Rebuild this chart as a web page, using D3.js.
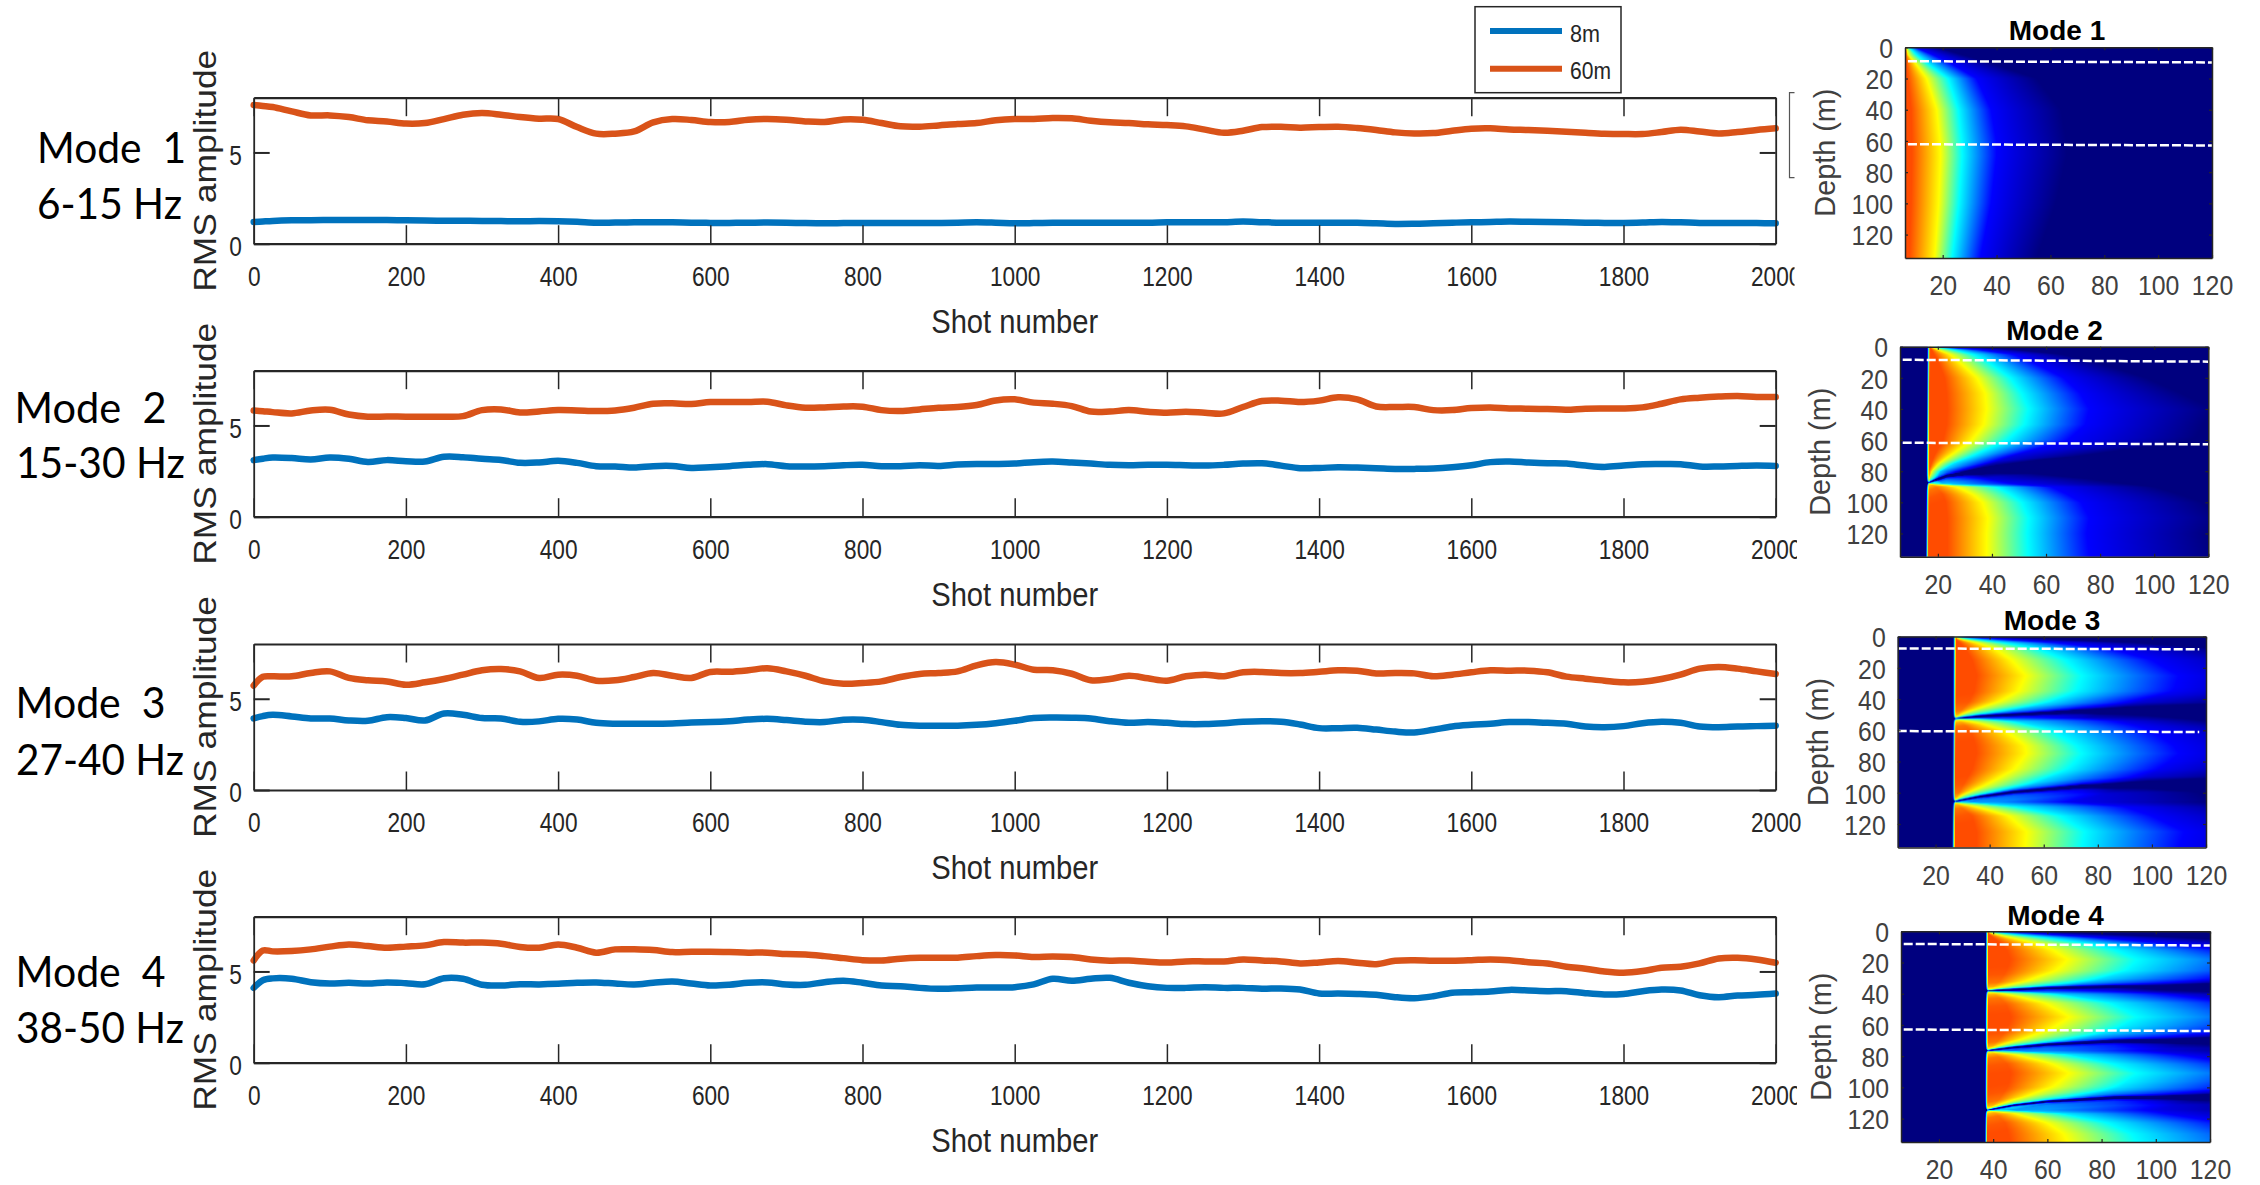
<!DOCTYPE html>
<html>
<head>
<meta charset="utf-8">
<title>Mode amplitude</title>
<script src="https://cdn.jsdelivr.net/npm/d3@7"></script>
<style>
  html, body { margin: 0; background: #fff; }
  svg { display: block; font-family: "Liberation Sans", Arial, sans-serif; }
</style>
</head>
<body>
<svg id="chart" width="2260" height="1185"></svg>
<script>
// shot numbers shared by all the curves
const shots = [0, 12,
  25, 50, 75, 100, 125, 150, 175, 200, 225, 250,
  275, 300, 325, 350, 375, 400, 425, 450, 475, 500,
  525, 550, 575, 600, 625, 650, 675, 700, 725, 750,
  775, 800, 825, 850, 875, 900, 925, 950, 975, 1000,
  1025, 1050, 1075, 1100, 1125, 1150, 1175, 1200, 1225, 1250,
  1275, 1300, 1325, 1350, 1375, 1400, 1425, 1450, 1475, 1500,
  1525, 1550, 1575, 1600, 1625, 1650, 1675, 1700, 1725, 1750,
  1775, 1800, 1825, 1850, 1875, 1900, 1925, 1950, 1975, 2000]

const mode1Shallow = [1.19, 1.22,
  1.25, 1.28, 1.29, 1.30, 1.30, 1.30, 1.30, 1.28, 1.27, 1.26,
  1.26, 1.25, 1.24, 1.23, 1.24, 1.23, 1.20, 1.15, 1.16, 1.17,
  1.17, 1.17, 1.15, 1.14, 1.14, 1.15, 1.16, 1.15, 1.13, 1.12,
  1.13, 1.14, 1.14, 1.14, 1.14, 1.14, 1.15, 1.17, 1.15, 1.12,
  1.13, 1.15, 1.15, 1.15, 1.15, 1.15, 1.15, 1.17, 1.18, 1.17,
  1.18, 1.21, 1.18, 1.15, 1.15, 1.15, 1.15, 1.15, 1.12, 1.08,
  1.09, 1.12, 1.15, 1.17, 1.19, 1.21, 1.20, 1.19, 1.17, 1.15,
  1.14, 1.14, 1.16, 1.19, 1.17, 1.14, 1.13, 1.14, 1.13, 1.12]
const mode1Deep = [7.6, 7.55,
  7.49, 7.25, 7.03, 7.03, 6.94, 6.76, 6.70, 6.58, 6.61, 6.83,
  7.07, 7.16, 7.07, 6.94, 6.85, 6.83, 6.39, 6.03, 6.03, 6.15,
  6.65, 6.83, 6.78, 6.67, 6.67, 6.79, 6.83, 6.79, 6.70, 6.67,
  6.81, 6.79, 6.61, 6.43, 6.41, 6.48, 6.56, 6.61, 6.76, 6.83,
  6.83, 6.89, 6.87, 6.74, 6.65, 6.61, 6.54, 6.50, 6.43, 6.25,
  6.08, 6.19, 6.39, 6.41, 6.36, 6.39, 6.41, 6.34, 6.23, 6.10,
  6.04, 6.06, 6.19, 6.30, 6.32, 6.26, 6.23, 6.19, 6.14, 6.08,
  6.03, 6.01, 6.01, 6.12, 6.25, 6.15, 6.04, 6.12, 6.23, 6.32]

const mode2Shallow = [3.10, 3.18,
  3.24, 3.21, 3.13, 3.24, 3.17, 3.00, 3.10, 3.04, 3.02, 3.28,
  3.26, 3.17, 3.11, 2.95, 2.97, 3.06, 2.95, 2.77, 2.75, 2.69,
  2.77, 2.78, 2.67, 2.71, 2.77, 2.84, 2.88, 2.77, 2.75, 2.77,
  2.82, 2.84, 2.77, 2.77, 2.82, 2.78, 2.86, 2.89, 2.89, 2.91,
  2.99, 3.02, 2.97, 2.91, 2.84, 2.82, 2.84, 2.84, 2.82, 2.80,
  2.84, 2.91, 2.93, 2.80, 2.66, 2.67, 2.71, 2.69, 2.66, 2.62,
  2.62, 2.64, 2.71, 2.82, 2.99, 3.02, 2.97, 2.93, 2.91, 2.80,
  2.73, 2.80, 2.88, 2.89, 2.88, 2.75, 2.75, 2.78, 2.80, 2.78]
const mode2Deep = [5.82, 5.78,
  5.73, 5.66, 5.82, 5.86, 5.60, 5.48, 5.49, 5.48, 5.48, 5.48,
  5.51, 5.84, 5.88, 5.71, 5.77, 5.84, 5.82, 5.79, 5.82, 5.97,
  6.19, 6.21, 6.17, 6.28, 6.28, 6.28, 6.30, 6.10, 5.97, 5.99,
  6.04, 6.03, 5.84, 5.79, 5.88, 5.97, 6.01, 6.12, 6.37, 6.43,
  6.25, 6.19, 6.06, 5.76, 5.76, 5.84, 5.75, 5.70, 5.75, 5.70,
  5.66, 6.01, 6.34, 6.36, 6.28, 6.36, 6.54, 6.43, 6.04, 6.01,
  6.01, 5.84, 5.84, 5.95, 5.99, 5.93, 5.92, 5.90, 5.86, 5.92,
  5.93, 5.93, 5.99, 6.19, 6.43, 6.52, 6.58, 6.61, 6.56, 6.56]

const mode3Shallow = [3.92, 4.05,
  4.12, 4.03, 3.92, 3.92, 3.81, 3.79, 3.99, 3.94, 3.81, 4.19,
  4.12, 3.94, 3.92, 3.74, 3.76, 3.90, 3.86, 3.68, 3.63, 3.63,
  3.63, 3.64, 3.70, 3.72, 3.77, 3.86, 3.90, 3.83, 3.74, 3.72,
  3.85, 3.85, 3.72, 3.57, 3.52, 3.52, 3.52, 3.57, 3.66, 3.79,
  3.94, 3.97, 3.96, 3.92, 3.77, 3.68, 3.72, 3.68, 3.61, 3.61,
  3.66, 3.74, 3.77, 3.74, 3.59, 3.39, 3.39, 3.41, 3.31, 3.20,
  3.15, 3.30, 3.48, 3.57, 3.63, 3.72, 3.72, 3.68, 3.63, 3.48,
  3.44, 3.50, 3.66, 3.74, 3.68, 3.48, 3.44, 3.48, 3.50, 3.52]
const mode3Deep = [5.72, 6.20,
  6.23, 6.23, 6.41, 6.50, 6.14, 6.01, 5.95, 5.77, 5.90, 6.08,
  6.32, 6.56, 6.63, 6.50, 6.14, 6.32, 6.26, 5.99, 6.01, 6.19,
  6.41, 6.26, 6.14, 6.47, 6.48, 6.56, 6.67, 6.50, 6.26, 5.95,
  5.82, 5.86, 5.95, 6.19, 6.36, 6.41, 6.50, 6.83, 7.01, 6.87,
  6.59, 6.56, 6.37, 6.01, 6.08, 6.26, 6.12, 5.99, 6.23, 6.32,
  6.23, 6.45, 6.47, 6.41, 6.41, 6.48, 6.56, 6.54, 6.39, 6.41,
  6.39, 6.23, 6.32, 6.45, 6.56, 6.54, 6.54, 6.45, 6.21, 6.10,
  5.99, 5.90, 5.93, 6.08, 6.32, 6.65, 6.74, 6.65, 6.50, 6.36]

const mode4Shallow = [4.10, 4.52,
  4.62, 4.60, 4.41, 4.34, 4.38, 4.34, 4.40, 4.36, 4.30, 4.63,
  4.60, 4.27, 4.23, 4.30, 4.29, 4.32, 4.38, 4.40, 4.34, 4.29,
  4.38, 4.45, 4.34, 4.23, 4.27, 4.38, 4.40, 4.29, 4.27, 4.41,
  4.49, 4.38, 4.23, 4.19, 4.10, 4.05, 4.08, 4.12, 4.12, 4.14,
  4.29, 4.60, 4.49, 4.60, 4.65, 4.38, 4.19, 4.10, 4.10, 4.14,
  4.10, 4.10, 4.05, 4.07, 4.01, 3.79, 3.79, 3.77, 3.72, 3.59,
  3.53, 3.64, 3.83, 3.86, 3.90, 3.99, 3.96, 3.92, 3.92, 3.81,
  3.74, 3.77, 3.92, 4.01, 3.96, 3.70, 3.59, 3.68, 3.72, 3.79]
const mode4Deep = [5.60, 6.15,
  6.10, 6.12, 6.21, 6.36, 6.48, 6.39, 6.30, 6.36, 6.43, 6.61,
  6.58, 6.58, 6.52, 6.34, 6.30, 6.48, 6.30, 6.03, 6.21, 6.21,
  6.17, 6.06, 6.08, 6.08, 6.06, 6.03, 6.03, 5.95, 5.93, 5.84,
  5.73, 5.62, 5.60, 5.70, 5.75, 5.75, 5.75, 5.84, 5.90, 5.88,
  5.79, 5.82, 5.79, 5.66, 5.59, 5.60, 5.53, 5.49, 5.55, 5.55,
  5.55, 5.66, 5.60, 5.55, 5.44, 5.49, 5.57, 5.48, 5.40, 5.59,
  5.62, 5.59, 5.59, 5.62, 5.66, 5.62, 5.51, 5.44, 5.26, 5.15,
  5.00, 4.93, 5.02, 5.20, 5.26, 5.44, 5.71, 5.75, 5.66, 5.48]

const shallowCurves = [mode1Shallow, mode2Shallow, mode3Shallow, mode4Shallow]
const deepCurves = [mode1Deep, mode2Deep, mode3Deep, mode4Deep]
const seriesNames = ['8m', '60m']
const modeNames = ['Mode 1', 'Mode 2', 'Mode 3', 'Mode 4']
const modeBands = ['6-15 Hz', '15-30 Hz', '27-40 Hz', '38-50 Hz']
const shotTicks = [0, 200, 400, 600, 800, 1000, 1200, 1400, 1600, 1800, 2000]
const amplitudeTicks = [0, 5]
const freqTicks = [20, 40, 60, 80, 100, 120]
const depthTicks = [0, 20, 40, 60, 80, 100, 120]

// heat maps. Each row: depth, then the frequency where the
// colour along that depth turns red-orange end, yellow, cyan, blue and navy
const contourLevels = [0.80, 0.625, 0.375, 0.125, 0]
const mode1Rows = [
  [0, 6.1, 6.3, 7, 10, 18], [1, 6.2, 6.6, 8, 11, 20], [5, 6.3, 7.2, 10.3, 16.5, 27.7],
  [10, 6.5, 9.7, 14, 22.7, 38], [20, 7, 14, 22, 32.6, 55], [40, 8.3, 17.8, 25.8, 38, 64],
  [60, 8.6, 19, 27, 40, 66], [70, 8.6, 19.2, 27.2, 40, 66], [100, 8.3, 18.5, 26, 38, 62],
  [135, 7.6, 17, 23.5, 34, 55]]
const mode2Rows = [
  [0, 17, 17.3, 17.8, 20, 30], [2, 17.7, 20, 25.7, 35.6, 50], [5, 18.6, 24.5, 33, 48, 66],
  [10, 20.2, 28, 38.7, 55, 79], [20, 22.5, 34.4, 46.7, 66.5, 97], [30, 23.2, 37.5, 51, 72.7, 110],
  [40, 23.5, 38, 53.5, 76, 122], [50, 23.2, 37, 52, 74.5, 118], [60, 21.9, 32.5, 45.5, 68, 115],
  [70, 18.6, 24.5, 33, 48, 85], [75, 17.6, 20.5, 26, 40, 70], [80, 16.7, 18, 21, 32, 60],
  [85, 16.5, 17, 20, 40, 80], [88, 16.7, 17.5, 22, 48, 90], [90, 19.3, 28, 42, 62, 100],
  [95, 21.9, 33, 47, 68, 110], [100, 22.9, 36.5, 51, 73, 118], [110, 23.5, 38.5, 53.5, 76, 124],
  [120, 23.5, 38, 53, 75, 120], [135, 23.5, 38, 53.5, 76, 122]]
const mode3Rows = [
  [0, 27.1, 27.2, 27.5, 29, 40], [1.5, 27.3, 28.5, 32, 42, 60], [4, 29, 35, 45, 65, 95],
  [8, 31, 42, 58, 85, 125], [15, 33.5, 48, 68, 100, 150], [25, 35.2, 53.2, 74, 110, 160],
  [35, 34.2, 50.5, 72, 108, 155], [42, 32.2, 44, 63, 95, 145], [48, 29, 34, 48, 85, 130],
  [52, 27.4, 28.5, 35, 75, 125], [54, 29, 36, 50, 90, 130], [60, 32.9, 46, 63, 100, 150],
  [70, 34.8, 53, 72, 108, 160], [75, 35.1, 53.5, 74, 110, 160], [85, 33.5, 49, 69, 103, 150],
  [95, 30.2, 40, 56, 92, 140], [102, 28, 31, 41, 80, 130], [106, 27.2, 27.5, 33, 70, 125],
  [109, 29, 36, 50, 90, 135], [115, 33.5, 47, 66, 100, 150], [125, 35.1, 53.5, 75, 112, 165],
  [135, 35.1, 53, 74, 110, 165]]
const mode4Rows = [
  [0, 37.9, 38, 38.5, 41, 50], [1.5, 38.2, 39.5, 44, 55, 75], [4, 39.8, 46, 58, 78, 110],
  [8, 43, 56, 75, 105, 150], [12, 45, 62, 85, 125, 170], [18, 46.3, 67.4, 93, 145, 190],
  [25, 45, 64, 90, 140, 185], [32, 42.4, 55, 78, 125, 170], [36, 39.8, 47, 66, 110, 160],
  [38.2, 38.2, 38.6, 46, 100, 150], [40, 40.5, 48, 65, 110, 160], [46, 44.4, 60, 84, 130, 175],
  [55, 46.6, 68, 93, 145, 190], [63, 45, 62, 86, 135, 180], [70, 41.8, 52, 72, 115, 165],
  [76.5, 38.2, 38.6, 46, 100, 150], [79, 41.1, 50, 68, 110, 160], [85, 45, 62, 84, 130, 175],
  [91, 46.6, 68, 93, 145, 190], [100, 45.3, 63, 87, 135, 180], [108, 42.1, 52, 72, 115, 165],
  [114.7, 38.2, 38.6, 46, 100, 150], [117, 41.1, 50, 66, 105, 155], [123, 44.4, 60, 82, 125, 170],
  [130, 45.7, 66, 91, 140, 185], [135, 46.3, 67.5, 93, 145, 190]]
const fieldRows = [mode1Rows, mode2Rows, mode3Rows, mode4Rows]

// low frequency edge of each mode, top and bottom of the panel
const modeCutoffs = [[4, 4], [16.5, 16], [27, 26.6], [37.7, 37.4]]

// dark nodal lines: [frequency, depth]
const mode2Nodes = [[[16, 87.5], [23.3, 83], [41.8, 78.4], [60.3, 76], [97.4, 73.5], [120, 73]]]
const mode3Nodes = [
  [[27, 52.6], [36.5, 51], [49, 50], [74, 47.8], [98, 47], [120, 47.5]],
  [[27, 105.6], [36.5, 102.5], [49, 99.6], [74, 96], [98, 94.8], [120, 94.8]]]
const mode4Nodes = [
  [[38, 38.2], [47.6, 37.3], [60, 36.3], [84.6, 35.6], [120, 35.6]],
  [[38, 76.5], [47.6, 74.5], [60, 72.6], [84.6, 70.5], [120, 70]],
  [[38, 114.7], [47.6, 111.6], [60, 109.2], [84.6, 106.8], [120, 106.3]]]
const fieldNodes = [[], mode2Nodes, mode3Nodes, mode4Nodes]
const nodeDistance = [0, 0.6, 1.2, 2.5, 5, 10, 15]
const nodeLoss = [0.7, 0.35, 0.18, 0.1, 0.04, 0.01, 0]

// white dashed receiver lines: [x0, depth0, x1, depth1]
const mode1Lines = [[7.1, 8.9, 120, 9.7], [7.1, 62.1, 120, 62.9]]
const mode2Lines = [[7, 8.4, 120, 9.6], [7, 61.7, 120, 62.7]]
const mode3Lines = [[6, 7.6, 117.5, 8.1], [6, 60.5, 117.5, 61.1]]
const mode4Lines = [[7, 8.1, 120, 9.1], [7, 62.9, 120, 63.9]]
const fieldLines = [mode1Lines, mode2Lines, mode3Lines, mode4Lines]

// layout
const lineLeft = 253.7, lineRight = 1775.7, lineHeight = 146
const lineTops = [97.7, 370.7, 644, 916.7]
const lastLabelCut = [1794.5, 1797, null, 1797]
const modeLabelLayout = [
  { x: 37, w: 149, y: 163, bx: 37, bw: 145, by: 219 },
  { x: 14.5, w: 152, y: 422.7, bx: 16, bw: 169, by: 478 },
  { x: 15.5, w: 150, y: 718, bx: 16, bw: 168, by: 775 },
  { x: 15.5, w: 150, y: 986.7, bx: 16, bw: 168, by: 1043 }]
const mapBoxes = [
  { left: 1905, right: 2212, top: 47.3, bottom: 258, title: 40, titleX: 2057 },
  { left: 1900, right: 2208.3, top: 346.7, bottom: 556.8, title: 339.8, titleX: 2054.5 },
  { left: 1897.7, right: 2206, top: 636.6, bottom: 847.4, title: 629.9, titleX: 2052 },
  { left: 1901, right: 2210, top: 931.3, bottom: 1142, title: 924.6, titleX: 2055.5 }]

const colorShallow = '#0072BD'
const colorDeep = '#D95319'
const colorAxis = '#262626'

const svg = d3.select('#chart')

const jet = d3.scaleLinear()
  .domain([0, 0.125, 0.375, 0.625, 0.875, 1])
  .range(['#00007f', '#0000ff', '#00ffff', '#ffff00', '#ff0000', '#7f0000'])
  .clamp(true)

function styleAxis(g, lineWidth, tickWidth) {
  g.select('.domain').attr('stroke', colorAxis).attr('stroke-width', lineWidth)
  g.selectAll('.tick line').attr('stroke', colorAxis).attr('stroke-width', tickWidth)
  g.selectAll('text').attr('fill', colorAxis)
}

function drawLinePanel(i) {
  const top = lineTops[i], bottom = top + lineHeight
  const x = d3.scaleLinear().domain([0, 2000]).range([lineLeft, lineRight])
  const y = d3.scaleLinear().domain([0, 8]).range([bottom, top])
  const panel = svg.append('g')

  const line = d3.line()
    .x((d, k) => x(shots[k]))
    .y(d => y(d))
    .curve(d3.curveCatmullRom)

  panel.append('path').datum(shallowCurves[i])
    .attr('d', line).attr('fill', 'none')
    .attr('stroke', colorShallow).attr('stroke-width', 6.5).attr('stroke-linecap', 'round')
  panel.append('path').datum(deepCurves[i])
    .attr('d', line).attr('fill', 'none')
    .attr('stroke', colorDeep).attr('stroke-width', 6.5).attr('stroke-linecap', 'round')

  const bottomAxis = panel.append('g').attr('transform', `translate(0,${bottom})`)
    .call(d3.axisBottom(x).tickValues(shotTicks).tickFormat(d3.format('d'))
      .tickSizeInner(-18.5).tickSizeOuter(0).tickPadding(22.5))
  bottomAxis.call(styleAxis, 2.2, 1.5)
  bottomAxis.selectAll('text').attr('font-size', 28).attr('transform', 'scale(.81,1)')

  const topAxis = panel.append('g').attr('transform', `translate(0,${top})`)
    .call(d3.axisTop(x).tickValues(shotTicks).tickFormat('').tickSizeInner(-18.5).tickSizeOuter(0))
  topAxis.call(styleAxis, 2.2, 1.5)

  const leftAxis = panel.append('g').attr('transform', `translate(${lineLeft},0)`)
    .call(d3.axisLeft(y).tickValues(amplitudeTicks).tickSizeInner(-16).tickSizeOuter(0).tickPadding(14.5))
  leftAxis.call(styleAxis, 1.8, 2)
  leftAxis.selectAll('text').attr('font-size', 28).attr('dy', '.42em').attr('transform', 'scale(.81,1)')

  const rightAxis = panel.append('g').attr('transform', `translate(${lineRight},0)`)
    .call(d3.axisRight(y).tickValues(amplitudeTicks).tickFormat('').tickSizeInner(-16).tickSizeOuter(0))
  rightAxis.call(styleAxis, 1.8, 2)

  if (lastLabelCut[i]) {
    panel.append('rect')
      .attr('x', lastLabelCut[i]).attr('y', bottom + 18)
      .attr('width', 20).attr('height', 28).attr('fill', '#fff')
  }

  panel.append('text')
    .attr('x', 1014.7).attr('y', bottom + 89)
    .attr('text-anchor', 'middle').attr('font-size', 33)
    .attr('textLength', 167).attr('lengthAdjust', 'spacingAndGlyphs')
    .attr('fill', colorAxis).text('Shot number')

  panel.append('text')
    .attr('transform', `translate(216,${(top + bottom) / 2}) rotate(-90)`)
    .attr('text-anchor', 'middle').attr('font-size', 32)
    .attr('textLength', 242).attr('lengthAdjust', 'spacingAndGlyphs')
    .attr('fill', colorAxis).text('RMS amplitude')
}

function drawModeLabel(i) {
  const l = modeLabelLayout[i]
  const g = svg.append('g').attr('font-family', 'Lato').attr('font-size', 42).attr('fill', '#000')
  g.append('text').attr('x', l.x).attr('y', l.y)
    .attr('textLength', l.w).attr('lengthAdjust', 'spacingAndGlyphs').text(modeNames[i].replace(' ', '  '))
    .style('white-space', 'pre')
  g.append('text').attr('x', l.bx).attr('y', l.by)
    .attr('textLength', l.bw).attr('lengthAdjust', 'spacingAndGlyphs').text(modeBands[i])
}

// paints one field into a canvas, one canvas pixel per screen pixel
function paintField(i, x, y, width, height) {
  const rows = fieldRows[i]
  const depths = rows.map(r => r[0])
  const contours = contourLevels.map((_, k) =>
    d3.scaleLinear().domain(depths).range(rows.map(r => r[k + 1])))
  const edge = d3.scaleLinear().domain([0, 135]).range(modeCutoffs[i])
  const nodes = fieldNodes[i].map(n =>
    d3.scaleLinear().domain(n.map(p => p[0])).range(n.map(p => p[1])).clamp(true))
  const loss = d3.scaleLinear().domain(nodeDistance).range(nodeLoss).clamp(true)

  const canvas = document.createElement('canvas')
  canvas.width = width
  canvas.height = height
  const context = canvas.getContext('2d')
  const image = context.createImageData(width, height)
  const x0 = x.range()[0], y0 = y.range()[0]

  for (let py = 0; py < height; py++) {
    const depth = y.invert(y0 + py + 0.5)
    const cut = edge(depth)
    const knots = [cut - 0.5, cut + 0.5]
    contours.forEach(c => knots.push(Math.max(c(depth), knots[knots.length - 1] + 0.01)))
    const profile = d3.scaleLinear().domain(knots)
      .range([0, contourLevels[0], ...contourLevels]).clamp(true)

    for (let px = 0; px < width; px++) {
      const freq = x.invert(x0 + px + 0.5)
      let value = profile(freq)
      nodes.forEach(n => { value -= loss(Math.abs(depth - n(freq))) })
      const c = d3.rgb(jet(Math.max(value, 0)))
      const p = (py * width + px) * 4
      image.data[p] = c.r
      image.data[p + 1] = c.g
      image.data[p + 2] = c.b
      image.data[p + 3] = 255
    }
  }
  context.putImageData(image, 0, 0)
  return canvas.toDataURL()
}

function drawMapPanel(i) {
  const b = mapBoxes[i]
  const x = d3.scaleLinear().domain([6, 120]).range([b.left, b.right])
  const y = d3.scaleLinear().domain([0, 135]).range([b.top, b.bottom])
  const panel = svg.append('g')
  const width = Math.round(b.right - b.left), height = Math.round(b.bottom - b.top)

  panel.append('image')
    .attr('x', b.left).attr('y', b.top)
    .attr('width', b.right - b.left).attr('height', b.bottom - b.top)
    .attr('preserveAspectRatio', 'none')
    .attr('href', paintField(i, x, y, width, height))

  panel.selectAll('line.depthline').data(fieldLines[i]).join('line')
    .attr('class', 'depthline')
    .attr('x1', d => x(d[0])).attr('y1', d => y(d[1]))
    .attr('x2', d => x(d[2])).attr('y2', d => y(d[3]))
    .attr('stroke', '#fff').attr('stroke-width', 2.5).attr('stroke-dasharray', '9,3')

  const bottomAxis = panel.append('g').attr('transform', `translate(0,${b.bottom})`)
    .call(d3.axisBottom(x).tickValues(freqTicks).tickSizeInner(-3).tickSizeOuter(0).tickPadding(18))
  bottomAxis.call(styleAxis, 1.5, 1.2)
  bottomAxis.selectAll('text').attr('font-size', 27).attr('fill', '#404040').attr('transform', 'scale(.92,1)')

  panel.append('g').attr('transform', `translate(0,${b.top})`)
    .call(d3.axisTop(x).tickValues(freqTicks).tickFormat('').tickSizeInner(-3).tickSizeOuter(0))
    .call(styleAxis, 1.5, 1.2)

  const leftAxis = panel.append('g').attr('transform', `translate(${b.left},0)`)
    .call(d3.axisLeft(y).tickValues(depthTicks).tickSizeInner(-3).tickSizeOuter(0).tickPadding(13))
  leftAxis.call(styleAxis, 1.5, 1.2)
  leftAxis.selectAll('text').attr('font-size', 27).attr('fill', '#404040').attr('dy', '.38em').attr('transform', 'scale(.92,1)')

  panel.append('g').attr('transform', `translate(${b.right},0)`)
    .call(d3.axisRight(y).tickValues(depthTicks).tickFormat('').tickSizeInner(-3).tickSizeOuter(0))
    .call(styleAxis, 1.5, 1.2)

  panel.append('text')
    .attr('x', b.titleX).attr('y', b.title)
    .attr('text-anchor', 'middle').attr('font-size', 28).attr('font-weight', 'bold')
    .attr('fill', '#000').text(modeNames[i])

  panel.append('text')
    .attr('transform', `translate(${b.left - 70},${(b.top + b.bottom) / 2}) rotate(-90)`)
    .attr('text-anchor', 'middle').attr('font-size', 29)
    .attr('textLength', 128).attr('lengthAdjust', 'spacingAndGlyphs')
    .attr('fill', '#404040').text('Depth (m)')
}

function drawLegend() {
  const g = svg.append('g')
  g.append('rect')
    .attr('x', 1475).attr('y', 6.7).attr('width', 146).attr('height', 86)
    .attr('fill', '#fff').attr('stroke', colorAxis).attr('stroke-width', 1.5)

  const legendColors = [colorShallow, colorDeep]
  const rowY = [31, 68.7]
  seriesNames.forEach((name, k) => {
    g.append('line')
      .attr('x1', 1490).attr('x2', 1562).attr('y1', rowY[k]).attr('y2', rowY[k])
      .attr('stroke', legendColors[k]).attr('stroke-width', 6)
    g.append('text')
      .attr('x', 1570).attr('y', rowY[k] + 10.5)
      .attr('font-size', 24)
      .attr('textLength', k === 0 ? 30 : 41).attr('lengthAdjust', 'spacingAndGlyphs')
      .attr('fill', colorAxis).text(name)
  })
}

// stray bracket next to the first depth axis
svg.append('path')
  .attr('d', d3.line()([[1794.5, 92.7], [1789.5, 92.7], [1789.5, 177.7], [1794.5, 177.7]]))
  .attr('fill', 'none').attr('stroke', '#555').attr('stroke-width', 1.2)

modeNames.forEach((m, i) => {
  drawLinePanel(i)
  drawModeLabel(i)
  drawMapPanel(i)
})
drawLegend()

</script>
</body>
</html>
